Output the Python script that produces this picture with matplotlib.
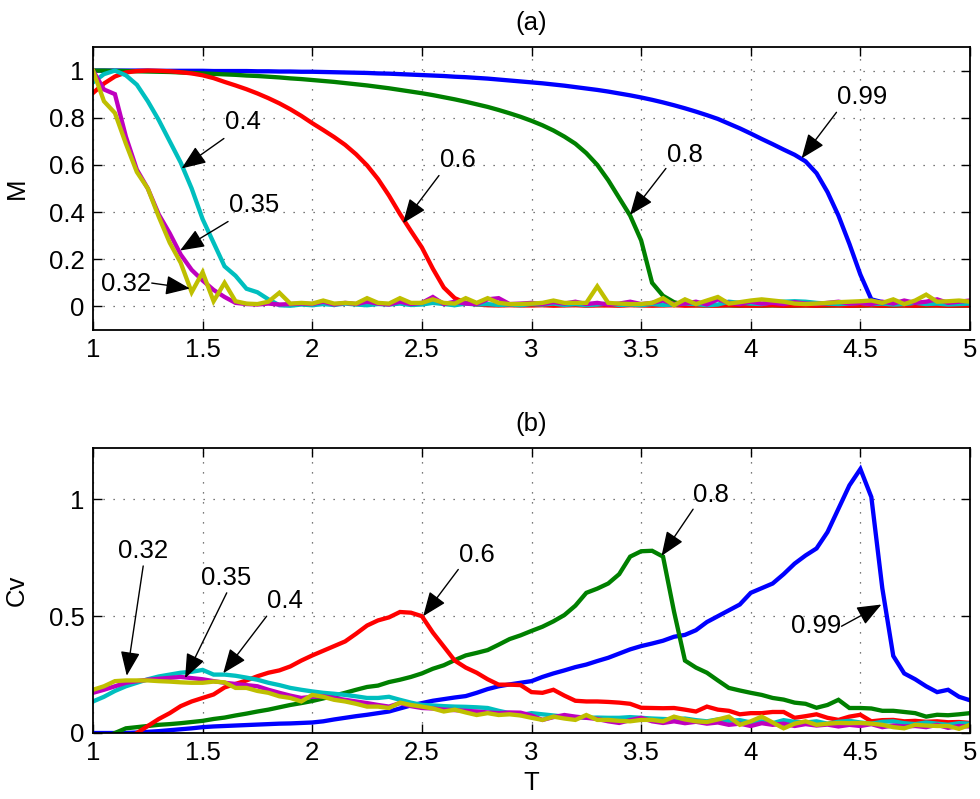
import numpy as np
import matplotlib
matplotlib.use("Agg")
import matplotlib.pyplot as plt
from matplotlib.ticker import FormatStrFormatter

plt.rcParams['font.family'] = ['Liberation Sans', 'DejaVu Sans']
plt.rcParams['font.size'] = 18.5

nan = np.nan

# temperature grid (step 0.05)
T = np.round(np.arange(1.0, 5.0001, 0.05), 2)

# labels of the six curves (plot order as in the original)
labels = ['0.99', '0.8', '0.6', '0.4', '0.35', '0.32']
colors = ['#0000ff', '#008000', '#ff0000', '#00bfbf', '#bf00bf', '#bfbf00']

# ---- panel (a): magnetisation M(T) ----
m_099 = [1.000, 1.000, 1.000, 1.000, 1.000, 1.000, 0.999, 0.999, 0.999, 0.999,
         0.999, 0.998, 0.998, 0.998, 0.998, 0.997, 0.997, 0.996, 0.996, 0.995,
         0.995, 0.994, 0.993, 0.992, 0.991, 0.990, 0.988, 0.987, 0.985, 0.983,
         0.981, 0.979, 0.977, 0.974, 0.972, 0.969, 0.966, 0.962, 0.958, 0.954,
         0.950, 0.946, 0.941, 0.936, 0.930, 0.924, 0.918, 0.911, 0.903, 0.895,
         0.886, 0.876, 0.865, 0.853, 0.840, 0.826, 0.811, 0.795, 0.775, 0.755,
         0.733, 0.710, 0.688, 0.665, 0.643, 0.615, 0.565, 0.485, 0.385, 0.265,
         0.135, 0.030, 0.018, 0.015, 0.012, 0.015, 0.013, 0.012, 0.015, 0.012,
         0.015]
m_08 = [1.000, 1.000, 0.999, 0.998, 0.997, 0.996, 0.995, 0.994, 0.992, 0.990,
        0.988, 0.986, 0.984, 0.982, 0.979, 0.977, 0.974, 0.971, 0.967, 0.964,
        0.960, 0.956, 0.952, 0.947, 0.942, 0.937, 0.931, 0.925, 0.918, 0.911,
        0.904, 0.896, 0.887, 0.878, 0.868, 0.857, 0.846, 0.833, 0.819, 0.804,
        0.787, 0.768, 0.746, 0.720, 0.690, 0.650, 0.600, 0.535, 0.460, 0.385,
        0.280, 0.100, 0.045, 0.018, 0.006, 0.005, 0.004, 0.005, 0.004, 0.003,
        0.004, 0.003, 0.004, 0.003, 0.003, 0.004, 0.003, 0.003, 0.004, 0.003,
        0.003, 0.004, 0.003, 0.003, 0.004, 0.003, 0.003, 0.004, 0.003, 0.003,
        0.004]
m_06 = [0.905, 0.945, 0.975, 0.992, 0.998, 1.000, 0.999, 0.997, 0.993, 0.988,
        0.980, 0.968, 0.952, 0.937, 0.921, 0.903, 0.883, 0.861, 0.836, 0.808,
        0.777, 0.748, 0.718, 0.685, 0.645, 0.598, 0.540, 0.470, 0.392, 0.320,
        0.250, 0.160, 0.080, 0.035, 0.015, 0.008, 0.005, 0.004, 0.005, 0.004,
        0.004, 0.005, 0.003, 0.004, 0.005, 0.003, 0.004, 0.004, 0.003, 0.005,
        0.004, 0.003, 0.004, 0.005, 0.003, 0.004, 0.004, 0.003, 0.005, 0.004,
        0.003, 0.004, 0.005, 0.003, 0.004, 0.004, 0.003, 0.005, 0.004, 0.003,
        0.004, 0.005, 0.003, 0.004, 0.004, 0.003, 0.005, 0.004, 0.003, 0.004,
        0.004]
m_04 = [0.950, 0.985, 1.000, 0.980, 0.940, 0.870, 0.790, 0.700, 0.610, 0.500,
        0.370, 0.270, 0.170, 0.130, 0.075, 0.060, 0.030, 0.005, 0.003, 0.008,
        0.005, 0.010, 0.006, 0.012, 0.008, 0.005, 0.010, 0.008, 0.012, 0.006,
        0.008, 0.015, 0.010, 0.005, 0.012, 0.008, 0.010, 0.006, 0.008, 0.005,
        0.010, 0.008, 0.012, 0.006, 0.010, 0.005, 0.008, 0.012, 0.006, 0.008,
        0.005, 0.010, 0.006, 0.008, 0.012, 0.010, 0.005, 0.008, 0.020, 0.015,
        0.012, 0.010, 0.018, 0.020, 0.022, 0.020, 0.015, 0.012, 0.010, 0.012,
        0.015, 0.010, 0.012, 0.008, 0.010, 0.015, 0.010, 0.012, 0.008, 0.010,
        0.012]
m_035 = [1.000, 0.920, 0.900, 0.720, 0.580, 0.500, 0.390, 0.310, 0.220, 0.155,
         0.110, 0.070, 0.040, 0.015, 0.010, 0.008, 0.012, 0.008, 0.010, 0.012,
         0.010, 0.020, 0.008, 0.015, 0.010, 0.020, 0.012, 0.008, 0.020, 0.010,
         0.015, 0.040, 0.010, 0.020, 0.012, 0.010, 0.030, 0.035, 0.010, 0.012,
         0.015, 0.010, 0.018, 0.012, 0.020, 0.010, 0.015, 0.008, 0.012, 0.020,
         0.010, 0.015, 0.025, 0.010, 0.012, 0.020, 0.008, 0.030, 0.015, 0.010,
         0.020, 0.012, 0.015, 0.010, 0.018, 0.012, 0.010, 0.015, 0.020, 0.012,
         0.015, 0.010, 0.020, 0.012, 0.025, 0.015, 0.020, 0.030, 0.015, 0.020,
         0.025]
m_032 = [1.000, 0.870, 0.820, 0.690, 0.570, 0.500, 0.380, 0.270, 0.185, 0.060,
         0.145, 0.022, 0.100, 0.022, 0.012, 0.010, 0.020, 0.058, 0.012, 0.015,
         0.012, 0.025, 0.012, 0.015, 0.012, 0.035, 0.015, 0.012, 0.035, 0.015,
         0.015, 0.030, 0.015, 0.012, 0.035, 0.015, 0.035, 0.015, 0.010, 0.010,
         0.012, 0.015, 0.025, 0.015, 0.015, 0.015, 0.085, 0.015, 0.012, 0.010,
         0.010, 0.015, 0.035, 0.005, 0.030, 0.010, 0.025, 0.040, 0.012, 0.018,
         0.025, 0.030, 0.025, 0.020, 0.012, 0.010, 0.012, 0.015, 0.018, 0.020,
         0.022, 0.025, 0.015, 0.030, 0.010, 0.025, 0.050, 0.020, 0.022, 0.025,
         0.020]

# ---- panel (b): specific heat Cv(T) ----
cv_099 = [0.000, 0.000, 0.000, 0.000, 0.002, 0.005, 0.008, 0.012, 0.016, 0.020,
          0.025, 0.028, 0.030, 0.032, 0.034, 0.036, 0.038, 0.040, 0.041, 0.043,
          0.045, 0.050, 0.058, 0.065, 0.072, 0.078, 0.085, 0.092, 0.105, 0.118,
          0.128, 0.138, 0.145, 0.152, 0.158, 0.172, 0.188, 0.200, 0.208, 0.215,
          0.222, 0.240, 0.255, 0.268, 0.282, 0.293, 0.308, 0.322, 0.340, 0.358,
          0.372, 0.383, 0.395, 0.412, 0.420, 0.440, 0.475, 0.500, 0.525, 0.550,
          0.600, 0.620, 0.640, 0.680, 0.725, 0.760, 0.790, 0.860, 0.960, 1.060,
          1.130, 1.010, 0.620, 0.330, 0.255, 0.230, 0.200, 0.175, 0.185, 0.155,
          0.140]
cv_08 = [nan, nan, 0.000, 0.020, 0.025, 0.030, 0.035, 0.038, 0.042, 0.047,
         0.052, 0.060, 0.066, 0.075, 0.083, 0.092, 0.100, 0.110, 0.120, 0.128,
         0.137, 0.148, 0.160, 0.172, 0.185, 0.197, 0.203, 0.218, 0.228, 0.240,
         0.255, 0.275, 0.290, 0.312, 0.332, 0.343, 0.355, 0.378, 0.402, 0.418,
         0.437, 0.455, 0.478, 0.505, 0.545, 0.600, 0.618, 0.640, 0.680, 0.755,
         0.778, 0.780, 0.755, 0.520, 0.310, 0.280, 0.258, 0.225, 0.193, 0.182,
         0.172, 0.163, 0.150, 0.143, 0.130, 0.125, 0.108, 0.120, 0.142, 0.107,
         0.107, 0.105, 0.095, 0.095, 0.090, 0.085, 0.070, 0.078, 0.076, 0.080,
         0.085]
cv_06 = [nan, nan, nan, nan, 0.000, 0.030, 0.060, 0.085, 0.115, 0.135,
         0.150, 0.165, 0.195, 0.210, 0.225, 0.243, 0.258, 0.268, 0.285, 0.310,
         0.332, 0.352, 0.372, 0.392, 0.425, 0.460, 0.482, 0.495, 0.518, 0.515,
         0.500, 0.430, 0.370, 0.310, 0.280, 0.258, 0.230, 0.207, 0.207, 0.205,
         0.175, 0.172, 0.185, 0.160, 0.138, 0.135, 0.135, 0.133, 0.130, 0.125,
         0.108, 0.107, 0.106, 0.107, 0.100, 0.092, 0.113, 0.100, 0.095, 0.080,
         0.085, 0.085, 0.090, 0.090, 0.065, 0.072, 0.080, 0.065, 0.056, 0.070,
         0.078, 0.050, 0.055, 0.056, 0.050, 0.052, 0.048, 0.050, 0.046, 0.047,
         0.043]
cv_04 = [0.135, 0.155, 0.180, 0.200, 0.215, 0.230, 0.242, 0.250, 0.258, 0.262,
         0.270, 0.250, 0.250, 0.245, 0.237, 0.228, 0.215, 0.205, 0.193, 0.185,
         0.178, 0.172, 0.168, 0.163, 0.157, 0.150, 0.150, 0.155, 0.142, 0.130,
         0.120, 0.118, 0.115, 0.113, 0.112, 0.110, 0.107, 0.095, 0.085, 0.077,
         0.085, 0.080, 0.075, 0.070, 0.068, 0.065, 0.066, 0.065, 0.065, 0.068,
         0.065, 0.062, 0.060, 0.058, 0.062, 0.055, 0.050, 0.058, 0.052, 0.055,
         0.045, 0.050, 0.042, 0.055, 0.048, 0.045, 0.050, 0.040, 0.048, 0.052,
         0.045, 0.040, 0.048, 0.050, 0.042, 0.038, 0.045, 0.040, 0.035, 0.042,
         0.040]
cv_035 = [0.172, 0.185, 0.200, 0.215, 0.222, 0.228, 0.232, 0.236, 0.240, 0.235,
          0.230, 0.222, 0.215, 0.210, 0.205, 0.200, 0.185, 0.172, 0.160, 0.150,
          0.155, 0.157, 0.150, 0.142, 0.135, 0.128, 0.120, 0.113, 0.128, 0.115,
          0.107, 0.105, 0.100, 0.098, 0.095, 0.092, 0.088, 0.085, 0.088, 0.087,
          0.075, 0.056, 0.068, 0.077, 0.070, 0.065, 0.060, 0.050, 0.043, 0.055,
          0.065, 0.050, 0.043, 0.050, 0.042, 0.048, 0.040, 0.045, 0.035, 0.040,
          0.030, 0.042, 0.035, 0.040, 0.030, 0.038, 0.032, 0.036, 0.028, 0.035,
          0.030, 0.038, 0.025, 0.032, 0.028, 0.030, 0.025, 0.035, 0.022, 0.030,
          0.028]
cv_032 = [0.185, 0.200, 0.222, 0.225, 0.225, 0.225, 0.222, 0.220, 0.217, 0.215,
          0.215, 0.220, 0.217, 0.193, 0.193, 0.180, 0.172, 0.157, 0.150, 0.135,
          0.163, 0.155, 0.142, 0.135, 0.125, 0.113, 0.113, 0.107, 0.130, 0.120,
          0.113, 0.105, 0.092, 0.100, 0.088, 0.077, 0.085, 0.077, 0.080, 0.075,
          0.065, 0.056, 0.070, 0.062, 0.056, 0.077, 0.056, 0.056, 0.052, 0.050,
          0.056, 0.056, 0.050, 0.070, 0.058, 0.050, 0.047, 0.058, 0.070, 0.035,
          0.050, 0.070, 0.045, 0.020, 0.040, 0.050, 0.035, 0.040, 0.043, 0.042,
          0.043, 0.040, 0.035, 0.025, 0.020, 0.035, 0.032, 0.030, 0.030, 0.018,
          0.035]

# annotation: (label, text position, arrow tail, arrow tip)
notes_a = [('0.99', (4.507, 0.886), (4.391, 0.823), (4.232, 0.628)),
           ('0.8', (3.698, 0.644), (3.613, 0.585), (3.449, 0.388)),
           ('0.6', (2.664, 0.619), (2.578, 0.555), (2.414, 0.353)),
           ('0.4', (1.686, 0.780), (1.597, 0.712), (1.404, 0.585)),
           ('0.35', (1.734, 0.428), (1.616, 0.360), (1.397, 0.237)),
           ('0.32', (1.150, 0.097), (1.268, 0.099), (1.442, 0.076))]
notes_b = [('0.32', (1.228, 0.779), (1.229, 0.715), (1.154, 0.245)),
           ('0.35', (1.606, 0.662), (1.610, 0.600), (1.420, 0.235)),
           ('0.4', (1.876, 0.567), (1.792, 0.500), (1.594, 0.256)),
           ('0.6', (2.750, 0.760), (2.666, 0.700), (2.506, 0.500)),
           ('0.8', (3.820, 1.018), (3.737, 0.958), (3.593, 0.758)),
           ('0.99', (4.297, 0.457), (4.414, 0.457), (4.596, 0.550))]

W, H = 980, 799
fig = plt.figure(figsize=(W / 100, H / 100), dpi=100)
ax1 = fig.add_axes([93 / W, 1 - 330 / H, 877 / W, 283 / H])
ax2 = fig.add_axes([93 / W, 1 - 733 / H, 877 / W, 285 / H])

m_data = [m_099, m_08, m_06, m_04, m_035, m_032]
cv_data = [cv_099, cv_08, cv_06, cv_04, cv_035, cv_032]

for ys, c in zip(m_data, colors):
    ax1.plot(T, ys, color=c, lw=3.1, solid_joinstyle='miter')
for ys, c in zip(cv_data, colors):
    ax2.plot(T, ys, color=c, lw=3.1, solid_joinstyle='miter')


def style(ax, ylim, yticks, title):
    ax.set_xlim(1, 5)
    ax.set_ylim(*ylim)
    ax.set_xticks(np.arange(1, 5.01, 0.5))
    ax.set_yticks(yticks)
    ax.xaxis.set_major_formatter(FormatStrFormatter('%g'))
    ax.yaxis.set_major_formatter(FormatStrFormatter('%g'))
    ax.tick_params(direction='in', top=True, right=True, length=6.5,
                   width=1, pad=6, labelsize=18.5)
    for s in ax.spines.values():
        s.set_linewidth(1.3)
    ax.grid(True, color='0.3', linestyle=(0, (1, 7)), lw=0.9)
    ax.set_title(title, fontsize=18.5, pad=12)


style(ax1, (-0.1, 1.1), [0, 0.2, 0.4, 0.6, 0.8, 1], '(a)')
style(ax2, (0, 1.22), [0, 0.5, 1], '(b)')

ax1.set_ylabel('M', fontsize=18.5)
ax2.set_ylabel('Cv', fontsize=18.5)
ax1.yaxis.set_label_coords(-0.073, 0.5)
ax2.yaxis.set_label_coords(-0.073, 0.5)
ax2.set_xlabel('T', fontsize=18.5)
ax2.xaxis.set_label_coords(0.5, -0.135)


def annotate(ax, notes):
    for txt, tpos, tail, tip in notes:
        ax.text(tpos[0], tpos[1], txt, ha='center', va='center', fontsize=18.5)
        ax.annotate('', xy=tip, xytext=tail,
                    arrowprops=dict(arrowstyle='-|>,head_length=1.5,head_width=0.6',
                                    mutation_scale=10, color='k', lw=1,
                                    shrinkA=0, shrinkB=0))


annotate(ax1, notes_a)
annotate(ax2, notes_b)

fig.savefig('out.png', dpi=100)
